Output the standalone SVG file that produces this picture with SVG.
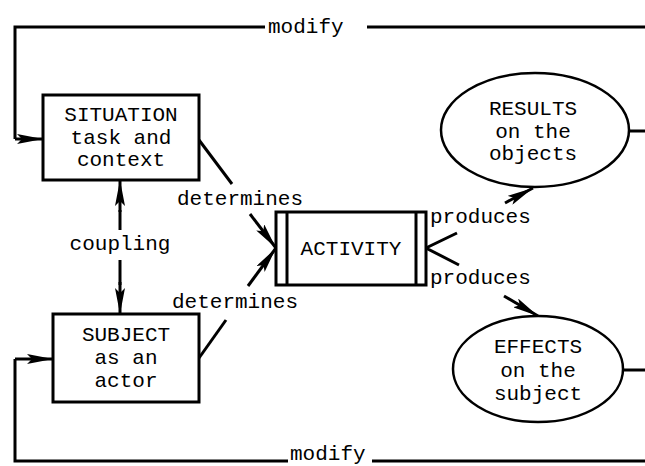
<svg xmlns="http://www.w3.org/2000/svg" width="645" height="466" viewBox="0 0 645 466">
<style>
.box{fill:#fff;stroke:#000;stroke-width:3}
.ell{fill:#fff;stroke:#000;stroke-width:2.5}
.ln{fill:none;stroke:#000;stroke-width:3}
.ar{fill:none;stroke:#000;stroke-width:3;marker-end:url(#ah)}
text{font-family:"Liberation Mono","Courier New",monospace;font-size:21px;fill:#000}
.c{text-anchor:middle}
</style>
<defs>
<marker id="ah" markerUnits="userSpaceOnUse" viewBox="0 0 26 10" refX="26" refY="5" markerWidth="26" markerHeight="10" orient="auto">
<path d="M0,0 L26,5 L0,10 L5,5 Z" fill="#000"/>
</marker>
</defs>
<rect width="645" height="466" fill="#fff"/>
<g id="connectors">
<path class="ln" d="M265,27 H15 V139"/>
<path class="ar" d="M15,139 H43"/>
<path class="ln" d="M367,27 H645"/>
<path class="ln" d="M288,461 H15 V359"/>
<path class="ar" d="M15,359 H53"/>
<path class="ln" d="M372,461 H645"/>
<path class="ln" d="M629,131 H645"/>
<path class="ln" d="M623,370 H645"/>
<path class="ln" d="M120,230 V210"/>
<path class="ar" d="M120,212 V180"/>
<path class="ln" d="M120,260 V285"/>
<path class="ar" d="M120,282 V314"/>
<path class="ln" d="M199,140 L232,184"/>
<path class="ar" d="M250,214 L276,248"/>
<path class="ln" d="M199,358 L226,320"/>
<path class="ar" d="M248,286 L276,248"/>
<path class="ln" d="M457,233 L426,248 L459,265"/>
<path class="ar" d="M505,203 L533,188"/>
<path class="ar" d="M504,296 L538,316"/>
<text x="268" y="33">modify</text>
<text x="290" y="460">modify</text>
<text class="c" x="120" y="250">coupling</text>
<text x="177" y="205">determines</text>
<text x="172" y="308">determines</text>
<text x="430" y="223">produces</text>
<text x="430" y="284">produces</text>
</g>
<g id="situation">
<rect class="box" x="43" y="95" width="156" height="85"/>
<text class="c" x="121" y="121">SITUATION</text>
<text class="c" x="121" y="144">task and</text>
<text class="c" x="121" y="166">context</text>
</g>
<g id="subject">
<rect class="box" x="53" y="314" width="146" height="88"/>
<text class="c" x="126" y="341">SUBJECT</text>
<text class="c" x="126" y="364">as an</text>
<text class="c" x="126" y="387">actor</text>
</g>
<g id="activity">
<rect class="box" x="276" y="212" width="150" height="73"/>
<line class="ln" x1="287" y1="212" x2="287" y2="285"/>
<line class="ln" x1="416" y1="212" x2="416" y2="285"/>
<text class="c" x="351" y="255">ACTIVITY</text>
</g>
<g id="results">
<ellipse class="ell" cx="535" cy="130" rx="94" ry="57"/>
<text class="c" x="533" y="115">RESULTS</text>
<text class="c" x="533" y="138">on the</text>
<text class="c" x="533" y="160">objects</text>
</g>
<g id="effects">
<ellipse class="ell" cx="538" cy="369" rx="85" ry="53"/>
<text class="c" x="538" y="353">EFFECTS</text>
<text class="c" x="538" y="377">on the</text>
<text class="c" x="538" y="400">subject</text>
</g>
</svg>
